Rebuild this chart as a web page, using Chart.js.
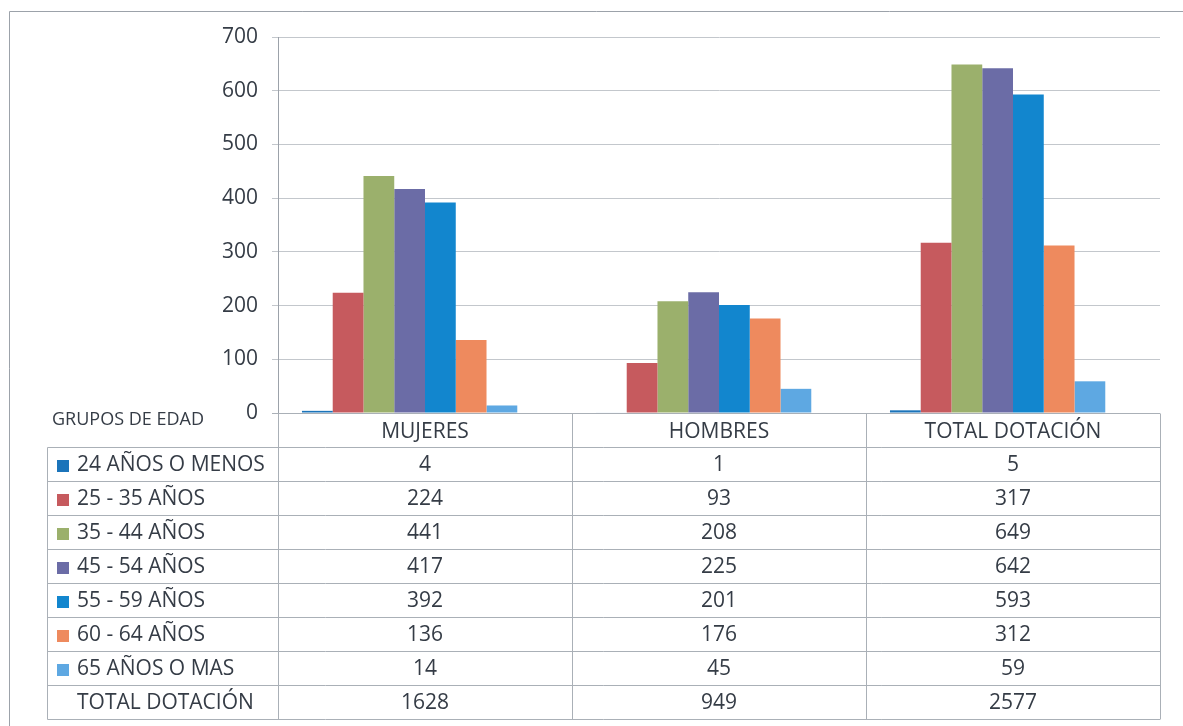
<!DOCTYPE html>
<html>
<head>
<meta charset="utf-8">
<script src="https://cdn.jsdelivr.net/npm/chart.js@4.4.1/dist/chart.umd.min.js"></script>
<style>
  html, body { margin: 0; padding: 0; background: #fff; }
  #wrap { width: 1183px; height: 726px; position: relative; }
</style>
</head>
<body>
<div id="wrap"><canvas id="myChart" width="1183" height="726"></canvas></div>
<script>
const categories = ["MUJERES", "HOMBRES", "TOTAL DOTACIÓN"]
const groupLabels = ["24 AÑOS O MENOS", "25 - 35 AÑOS", "35 - 44 AÑOS", "45 - 54 AÑOS", "55 - 59 AÑOS", "60 - 64 AÑOS", "65 AÑOS O MAS"]
const age24orLess = [4, 1, 5]
const age25to35 = [224, 93, 317]
const age35to44 = [441, 208, 649]
const age45to54 = [417, 225, 642]
const age55to59 = [392, 201, 593]
const age60to64 = [136, 176, 312]
const age65plus = [14, 45, 59]
const totals = [1628, 949, 2577]
const totalLabel = "TOTAL DOTACIÓN"
const tableTitle = "GRUPOS DE EDAD"
const colors = ["#1b74ba", "#c65a5e", "#9bb06c", "#6b6ca6", "#1286ce", "#ee8a5e", "#5ea8e2"]

const series = [age24orLess, age25to35, age35to44, age45to54, age55to59, age60to64, age65plus]
const FONT = "'Open Sans', sans-serif"
const TEXT = "#353c46"
const LINE = "#aab0b7"
const ROW_H = 34

const datasets = series.map((values, i) => ({
  label: groupLabels[i],
  data: values,
  backgroundColor: colors[i],
  borderWidth: 0,
}))
// empty slot: Excel leaves the group slightly left of the category centre
datasets.push({ label: "", data: [null, null, null], backgroundColor: "rgba(0,0,0,0)" })

const dataTable = {
  id: "dataTable",
  beforeDraw(chart) {
    const c = chart.ctx
    c.save()
    c.fillStyle = "#fff"
    c.fillRect(0, 0, chart.width, chart.height)
    c.strokeStyle = "#9ca2aa"
    c.lineWidth = 1
    c.beginPath()
    c.moveTo(9.5, chart.height)
    c.lineTo(9.5, 11.5)
    c.lineTo(chart.width, 11.5)
    c.stroke()
    c.restore()
  },
  afterDraw(chart) {
    const c = chart.ctx
    const area = chart.chartArea
    const cw = (area.right - area.left) / categories.length
    const top = Math.round(area.bottom) + 0.5
    const legendLeft = 47.5
    const rows = groupLabels.length + 1
    const bottom = top + ROW_H * (rows + 1)
    c.save()
    c.strokeStyle = LINE
    c.lineWidth = 1
    c.beginPath()
    // header top (category axis)
    c.moveTo(area.left - 6, top)
    c.lineTo(area.right, top)
    for (let r = 1; r <= rows + 1; r++) {
      const y = top + ROW_H * r
      c.moveTo(legendLeft, y)
      c.lineTo(area.right, y)
    }
    c.moveTo(legendLeft, top + ROW_H)
    c.lineTo(legendLeft, bottom)
    for (let i = 0; i <= categories.length; i++) {
      const x = Math.round(area.left + cw * i) + 0.5
      c.moveTo(x, top)
      c.lineTo(x, bottom)
    }
    c.stroke()

    c.fillStyle = TEXT
    c.textBaseline = "middle"
    c.font = "18px " + FONT
    c.textAlign = "left"
    c.fillText(tableTitle, 52, top + 6)

    c.font = "21px " + FONT
    c.textAlign = "center"
    categories.forEach((cat, i) => {
      c.fillText(cat, area.left + cw * (i + 0.5), top + ROW_H / 2 + 2)
    })
    series.forEach((values, r) => {
      const yMid = top + ROW_H * (r + 1) + ROW_H / 2 + 1
      c.fillStyle = colors[r]
      c.fillRect(57, Math.round(yMid - 6), 12, 12)
      c.fillStyle = TEXT
      c.textAlign = "left"
      c.fillText(groupLabels[r], 77, yMid)
      c.textAlign = "center"
      values.forEach((v, i) => c.fillText(String(v), area.left + cw * (i + 0.5), yMid))
    })
    const yTot = top + ROW_H * rows + ROW_H / 2 + 1
    c.textAlign = "left"
    c.fillText(totalLabel, 77, yTot)
    c.textAlign = "center"
    totals.forEach((v, i) => c.fillText(String(v), area.left + cw * (i + 0.5), yTot))
    c.restore()
  },
}

const config = {
  type: "bar",
  data: { labels: categories, datasets: datasets },
  options: {
    responsive: false,
    animation: false,
    categoryPercentage: 0.837,
    barPercentage: 1,
    layout: { padding: { top: 37, right: 23, bottom: 313, left: 0 } },
    plugins: {
      legend: { display: false },
      tooltip: { enabled: true },
    },
    scales: {
      x: { display: false },
      y: {
        min: 0,
        max: 700,
        afterFit(scale) { scale.width = 278 },
        ticks: {
          stepSize: 100,
          color: TEXT,
          padding: 14,
          font: { family: FONT, size: 21 },
        },
        grid: { color: "#c3c7cc", lineWidth: 1, tickLength: 6 },
        border: { color: "#9ca2aa" },
      },
    },
  },
  plugins: [dataTable],
}

new Chart(document.getElementById("myChart"), config)
</script>
</body>
</html>
